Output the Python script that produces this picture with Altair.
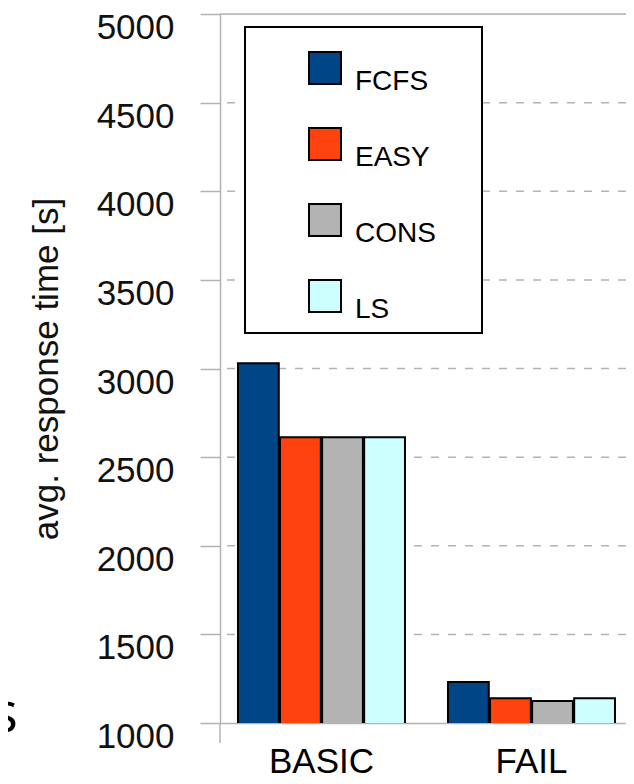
import altair as alt
import pandas as pd

# ---- data ----
categories = ["BASIC", "FAIL"]
policies = ["FCFS", "EASY", "CONS", "LS"]
basic_values = [3030, 2612, 2612, 2612]
fail_values = [1232, 1140, 1124, 1140]
colors = ["#004586", "#ff420e", "#b3b3b3", "#ccffff"]
y_ticks = [1000, 1500, 2000, 2500, 3000, 3500, 4000, 4500, 5000]
dashed_grid = [1500, 2000, 2500, 3000, 3500, 4000, 4500]
solid_grid = [5000]

rows = []
for p, v in zip(policies, basic_values):
    rows.append({"scenario": "BASIC", "policy": p, "value": v})
for p, v in zip(policies, fail_values):
    rows.append({"scenario": "FAIL", "policy": p, "value": v})
df = pd.DataFrame(rows)

W = 406
H = 709
FONT = "Liberation Sans"
GRAY = "#b3b3b3"

yscale = alt.Scale(domain=[1000, 5000], zero=False, nice=False)

grid_dash = alt.Chart(pd.DataFrame({"value": dashed_grid})).mark_rule(
    color=GRAY, strokeWidth=1.5, strokeDash=[8, 9]
).encode(y=alt.Y("value:Q", scale=yscale))

grid_solid = alt.Chart(pd.DataFrame({"value": solid_grid})).mark_rule(
    color=GRAY, strokeWidth=1.5
).encode(y=alt.Y("value:Q", scale=yscale))

bars = alt.Chart(df).mark_bar(stroke="black", strokeWidth=2, clip=True).encode(
    x=alt.X(
        "scenario:N",
        sort=categories,
        scale=alt.Scale(paddingInner=0.2048, paddingOuter=0.069, align=0.62),
        axis=alt.Axis(
            title=None, ticks=False, labelAngle=0, labelFontSize=35,
            labelPadding=21, labelFont=FONT, labelColor="#000",
            labelBaseline="top",
            domainColor=GRAY, domainWidth=1.5,
        ),
    ),
    xOffset=alt.XOffset("policy:N", sort=policies, scale=alt.Scale(paddingInner=0.03)),
    y=alt.Y(
        "value:Q",
        scale=yscale,
        axis=alt.Axis(
            values=y_ticks, format="d", grid=False, tickSize=20, tickColor=GRAY,
            tickWidth=1.5, domainColor=GRAY, domainWidth=1.5,
            labelFontSize=35, labelFont=FONT, labelColor="#111", labelPadding=26,
            labelBaseline="top", labelOffset=-3.5,
            title="avg. response time [s]", titleFont=FONT, titleFontSize=35,
            titleFontWeight="normal", titleColor="#111", titlePadding=32,
        ),
    ),
    color=alt.Color(
        "policy:N",
        sort=policies,
        scale=alt.Scale(domain=policies, range=colors),
        legend=alt.Legend(
            orient="none", legendX=88, legendY=37, title=None,
            symbolType="square", symbolSize=1024, symbolStrokeColor="black",
            symbolStrokeWidth=2, symbolOpacity=1,
            labelFont=FONT, labelFontSize=28, labelColor="#000",
            labelBaseline="top", labelOffset=13, rowPadding=28, padding=0,
        ),
    ),
)

legend_box = alt.Chart(pd.DataFrame({"a": [0]})).mark_rect(
    fill="white", stroke="black", strokeWidth=2
).encode(
    x=alt.value(25), x2=alt.value(262), y=alt.value(13), y2=alt.value(319)
)

axis_ext = alt.Chart(pd.DataFrame({"a": [0]})).mark_rule(
    color=GRAY, strokeWidth=1.5
).encode(x=alt.value(0), y=alt.value(H), y2=alt.value(H + 20))

stray = alt.Chart(pd.DataFrame({"t": ["s"]})).mark_text(
    font="Open Sans", fontSize=56, align="right", baseline="alphabetic", color="#000"
).encode(text="t:N", x=alt.value(-202), y=alt.value(718))

chart = alt.layer(grid_dash, grid_solid, bars, legend_box, axis_ext, stray).properties(
    width=W,
    height=H,
    autosize=alt.AutoSizeParams(type="none"),
    padding={"left": 212, "top": 6, "right": 0, "bottom": 55},
).configure_view(stroke=None).configure(background="white")

chart.save("out.html", embed_options={"renderer": "svg", "actions": False})
